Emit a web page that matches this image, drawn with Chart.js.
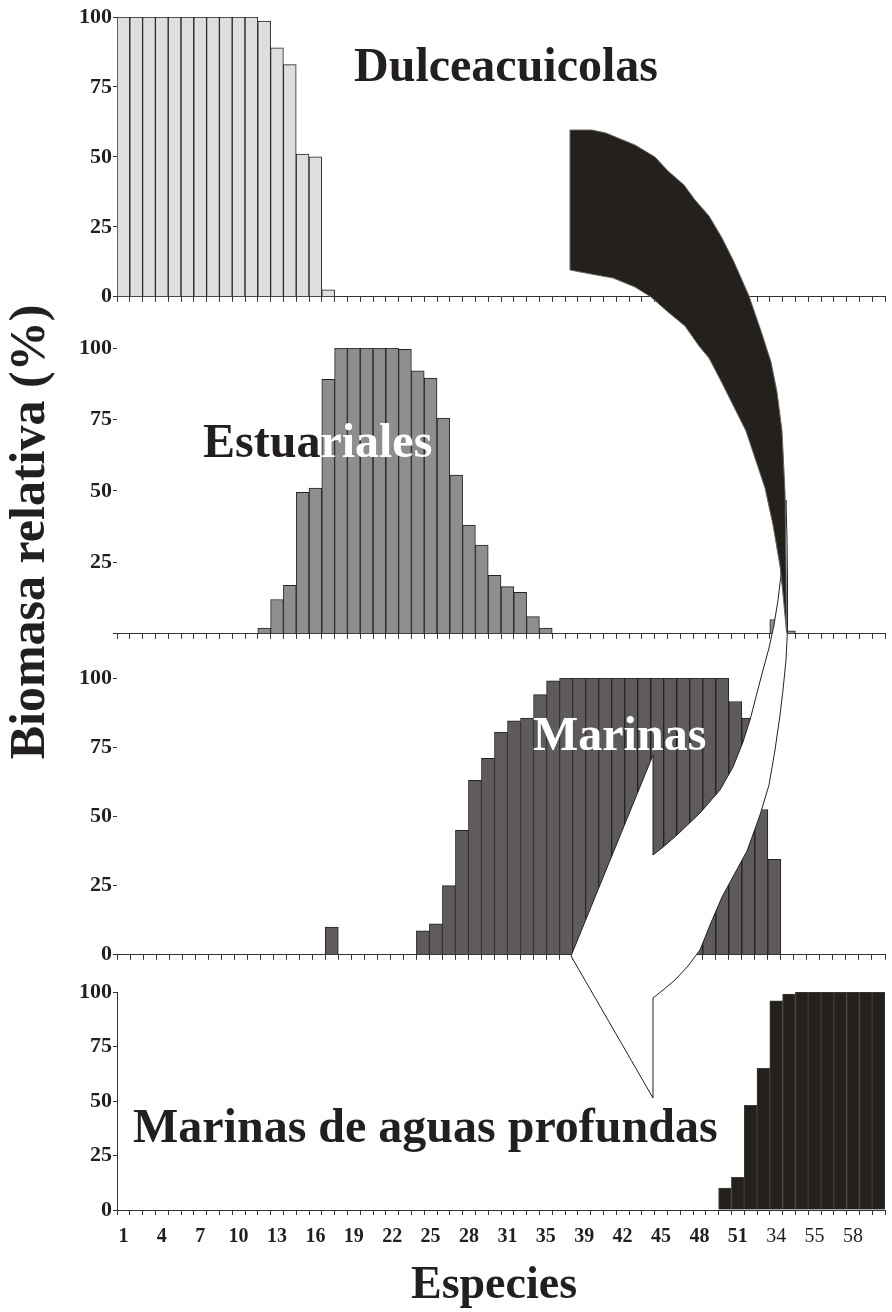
<!DOCTYPE html>
<html><head><meta charset="utf-8">
<script src="https://cdn.jsdelivr.net/npm/chart.js@4.4.1/dist/chart.umd.min.js"></script>
<style>
html,body{margin:0;padding:0;background:#fff;}
#wrap{position:relative;width:892px;height:1312px;overflow:hidden;background:#fff;}
#wrap canvas{position:absolute;left:0;}
#overlay{top:0;z-index:5;pointer-events:none;}
</style></head><body><div id="wrap">
<canvas id="c1"></canvas><canvas id="c2"></canvas><canvas id="c3"></canvas><canvas id="c4"></canvas>
<canvas id="overlay" width="892" height="1312"></canvas>
</div>
<script>
// ---------- DATA ----------
const species = [1,2,3,4,5,6,7,8,9,10,11,12,13,14,15,16,17,18,19,20,21,22,23,24,25,26,27,28,29,30,
  31,32,33,34,35,36,37,38,39,40,41,42,43,44,45,46,47,48,49,50,51,52,53,54,55,56,57,58,59,60];
// tick labels exactly as printed (one every third species)
const tickLabels = ['1','4','7','10','13','16','19','22','25','28','31','35','39','42','45','48','51','34','55','58'];
const yTicks = [0,25,50,75,100];

const dulceacuicolas = [100,100,100,100,100,100,100,100,100,100,100,98.5,89,83,51,50,2.5,
  0,0,0,0,0,0,0,0,0,0,0,0,0,0,0,0,0,0,0,0,0,0,0,0,0,0,0,0,0,0,0,0,0,0,0,0,0,0,0,0,0,0,0,0];
const estuariales = [0,0,0,0,0,0,0,0,0,0,0,
  2,12,17,49.5,51,89,100,100,100,100,100,99.5,92,89.5,75.5,55.5,38,31,20.5,16.5,14.5,6,2,
  0,0,0,0,0,0,0,0,0,0,0,0,0,0,0,0,0,
  5,1,0,0,0,0,0,0,0];
const marinas = [0,0,0,0,0,0,0,0,0,0,0,0,0,0,0,0,10,0,0,0,0,0,0,
  8.7,11.2,25,45,63,71,80.5,84.5,85.5,94,99,
  100,100,100,100,100,100,100,100,100,100,100,100,100,
  91.5,85.5,52.5,34.5,
  0,0,0,0,0,0,0,0];
const profundas = [0,0,0,0,0,0,0,0,0,0,0,0,0,0,0,0,0,0,0,0,0,0,0,0,0,0,0,0,0,0,
  0,0,0,0,0,0,0,0,0,0,0,0,0,0,0,0,0,
  10,15,48,65,96,99,100,100,100,100,100,100,100];

// ---------- STYLE / LAYOUT ----------
const FONT = '"Liberation Serif","Times New Roman",serif';
const INK = '#231f20';
const regularTickLabels = ['34','55','58'];
const PAD = 16;

const panels = [
  {id:'c1', values:dulceacuicolas, fill:'#dedede', border:'#222', top:17,  zero:297,  axisH:14, labels:false, yBorder:true,  hideZero:false},
  {id:'c2', values:estuariales,    fill:'#8e8e8e', border:'#222', top:348, zero:634,  axisH:14, labels:false, yBorder:false, hideZero:true},
  {id:'c3', values:marinas,        fill:'#5f5b5b', border:'#222', top:678, zero:955,  axisH:14, labels:false, yBorder:false, hideZero:false},
  {id:'c4', values:profundas,      fill:'#24211d', border:'#3c3c3c', top:992, zero:1210, axisH:46, labels:true,  yBorder:true,  hideZero:false}
];

panels.forEach(p => {
  const cv = document.getElementById(p.id);
  const h = p.zero - p.top + PAD + p.axisH;
  cv.width = 892; cv.height = h;
  cv.style.top = (p.top - PAD) + 'px';
  const cats = species.slice(0, p.values.length);
  new Chart(cv, {
    type: 'bar',
    data: {labels: cats, datasets: [{
      data: p.values, backgroundColor: p.fill, borderColor: p.border,
      borderWidth: {top:1, left:1, right:1, bottom:0}, borderSkipped: false,
      barPercentage: 1, categoryPercentage: 1
    }]},
    options: {
      responsive: false, animation: false, events: [],
      layout: {padding: {top: PAD, right: 7, left: 0, bottom: 0}},
      plugins: {legend: {display: false}, tooltip: {enabled: false}},
      scales: {
        x: {
          type: 'category', offset: true,
          grid: {offset: true, drawOnChartArea: false, drawTicks: true, tickLength: 5, color: '#333', lineWidth: 1},
          border: {display: true, color: '#333', width: 1},
          ticks: {
            display: p.labels, autoSkip: false, maxRotation: 0, minRotation: 0, padding: 10, color: INK,
            callback: (v, i) => (i % 3 === 0 && tickLabels[i/3] !== undefined) ? tickLabels[i/3] : '',
            font: ctx => ({family: FONT, size: 20,
              weight: (ctx.index % 3 === 0 && regularTickLabels.includes(tickLabels[ctx.index/3])) ? 'normal' : 'bold'})
          },
          afterFit: s => { s.height = p.axisH; }
        },
        y: {
          min: 0, max: 100,
          afterBuildTicks: s => { s.ticks = yTicks.map(v => ({value: v})); },
          grid: {drawOnChartArea: false, drawTicks: true, tickLength: 4, color: '#333'},
          border: {display: p.yBorder, color: '#333', width: 1},
          ticks: {
            color: INK, padding: 1,
            font: {family: FONT, size: 22, weight: 'bold'},
            callback: v => (p.hideZero && v === 0) ? '' : String(v)
          },
          afterFit: s => { s.width = 117; }
        }
      }
    }
  });
});

// ---------- ANNOTATIONS (decorative arrows & titles) ----------
const ctx = document.getElementById('overlay').getContext('2d');

const whiteArrow = [[571,956],[653,755],[653,855],[662,848],[677,835],[700,813],[720,790],[733,767],[743,742],
  [750,720],[757,693],[763,670],[769,648],[774,625],[778,600],[781,575],[783,550],[784,520],[786,500],
  [787,540],[787.5,580],[787.5,630],[786,660],[783,690],[780,715],[775,750],[769,785],[760,815],[747,851],
  [735,873],[722,897],[710,925],[700,950],[688,966],[675,980],[663,990],[653,998],[653,1098]];
const blackBand = [[570,130],[592,130],[606,133],[618,138],[635,145],[655,157],[668,171],[684,185],[695,200],
  [709,216],[722,238],[734,262],[749,296],[762,334],[771,362],[777,392],[782,431],[785,492],[786,559],[786.6,633],
  [784,605],[782.6,590],[780,566],[773,525],[765,488],[756,461],[746,431],[734,407],[722,383],[709,358],
  [699,346],[685,326],[668,312],[651,297],[635,287],[613,278],[591,274],[570,270]];

function poly(pts){ ctx.beginPath(); ctx.moveTo(pts[0][0], pts[0][1]); for (let i=1;i<pts.length;i++) ctx.lineTo(pts[i][0], pts[i][1]); ctx.closePath(); }

poly(whiteArrow);
ctx.fillStyle = '#fff'; ctx.fill();
ctx.strokeStyle = '#222'; ctx.lineWidth = 1; ctx.lineJoin = 'round'; ctx.stroke();

poly(blackBand);
ctx.fillStyle = '#24211d'; ctx.fill();
ctx.strokeStyle = '#666'; ctx.lineWidth = 1; ctx.stroke();

// panel titles
ctx.textBaseline = 'middle';
ctx.font = 'bold 48px ' + FONT;
ctx.fillStyle = INK; ctx.textAlign = 'center';
ctx.fillText('Dulceacuicolas', 506, 69);

ctx.textAlign = 'left';
ctx.fillStyle = INK; ctx.fillText('Estua', 203, 445);
const wE = ctx.measureText('Estua').width;
ctx.fillStyle = '#fff'; ctx.fillText('riales', 203 + wE, 445);

ctx.fillStyle = '#fff'; ctx.fillText('Marinas', 533, 738);

ctx.fillStyle = INK; ctx.fillText('Marinas de aguas profundas', 133, 1130);

// axis titles
ctx.textAlign = 'center';
ctx.font = 'bold 46px ' + FONT;
ctx.fillText('Especies', 494, 1286);
ctx.save();
ctx.translate(31, 532);
ctx.rotate(-Math.PI/2);
ctx.font = 'bold 50px ' + FONT;
ctx.fillText('Biomasa relativa (%)', 0, 0);
ctx.restore();
</script>
</body></html>
